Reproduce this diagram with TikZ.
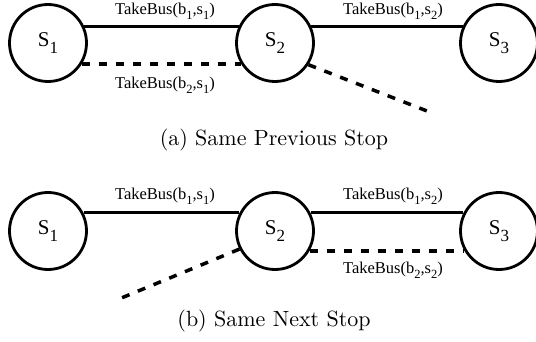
\documentclass[tikz,border=0pt]{standalone}
\usepackage{fontspec}
\setmainfont{Liberation Serif}
\newfontfamily\lmfont{Latin Modern Roman}
\newcommand\lsub[1]{\raisebox{-0.3em}{\fontsize{12.5}{12.5}\selectfont #1}}
\newcommand\nsub[1]{\raisebox{-0.32em}{\fontsize{17}{17}\selectfont #1}}
\tikzset{
 stop/.style={circle, draw, line width=2.8pt, minimum size=77pt, inner sep=0pt, font=\rmfamily\fontsize{21}{21}\selectfont},
 lbl/.style={font=\rmfamily\fontsize{16.5}{16.5}\selectfont, inner sep=0pt},
 captiontext/.style={font=\lmfont\fontsize{10}{12}\selectfont, inner sep=0pt, scale=2.2, transform shape},
 solidedge/.style={line width=3pt},
 dashedge/.style={line width=3.5pt, dash pattern=on 8pt off 9pt}
}
\begin{document}
\begin{tikzpicture}[x=1pt,y=-1pt]
\useasboundingbox (0,0) rectangle (536,342);
% (a)
\node[stop] (a1) at (48,43) {S\nsub{1}};
\node[stop] (a2) at (275,43) {S\nsub{2}};
\node[stop] (a3) at (499,43) {S\nsub{3}};
\coordinate (aend) at (427,111);
\draw[solidedge] (a1.25) -- (a2.155);
\draw[solidedge] (a2.25) -- (a3.155);
\draw[dashedge] (a1.-32) -- (a2.-148);
\draw[dashedge] (a2.-33) -- (aend);
\node[lbl] (la1) at (165,11) {TakeBus(b\lsub{1},s\lsub{1})};
\node[lbl] (la2) at (393,11) {TakeBus(b\lsub{1},s\lsub{2})};
\node[lbl] (la3) at (165,85) {TakeBus(b\lsub{2},s\lsub{1})};
\node[captiontext] (capa) at (274,140) {(a) Same Previous Stop};
% (b)
\node[stop] (b1) at (48,231) {S\nsub{1}};
\node[stop] (b2) at (275,231) {S\nsub{2}};
\node[stop] (b3) at (499,231) {S\nsub{3}};
\coordinate (bend) at (119,299);
\draw[solidedge] (b1.27) -- (b2.153);
\draw[solidedge] (b2.27) -- (b3.153);
\draw[dashedge] (b2.-30) -- (b3.-150);
\draw[dashedge] (b2.-153) -- (bend);
\node[lbl] (lb1) at (165,196) {TakeBus(b\lsub{1},s\lsub{1})};
\node[lbl] (lb2) at (393,196) {TakeBus(b\lsub{1},s\lsub{2})};
\node[lbl] (lb3) at (393,270) {TakeBus(b\lsub{2},s\lsub{2})};
\node[captiontext] (capb) at (274,321) {(b) Same Next Stop};
\end{tikzpicture}
\end{document}
